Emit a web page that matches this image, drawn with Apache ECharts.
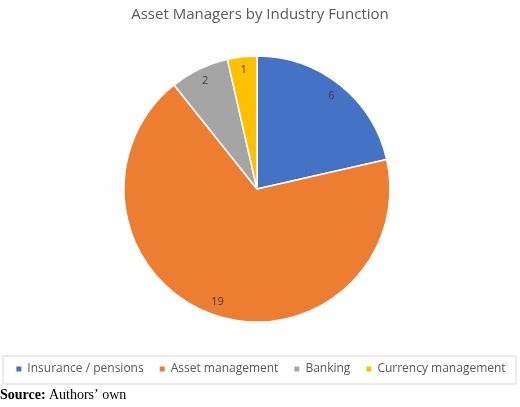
<!DOCTYPE html>
<html><head><meta charset="utf-8">
<script src="https://cdn.jsdelivr.net/npm/echarts@6/dist/echarts.min.js"></script>
<style>html,body{margin:0;padding:0;background:#fff}#c{width:520px;height:407px}</style>
</head><body><div id="c"></div>
<script>
const categories = ["Insurance / pensions","Asset management","Banking","Currency management"];
const values = [6,19,2,1];
const colors = ["#4472C4","#ED7D31","#A5A5A5","#FFC000"];
const data = categories.map((n,i)=>({name:n,value:values[i],itemStyle:{color:colors[i]}}));
const chart = echarts.init(document.getElementById('c'));
chart.setOption({
  animation:false,
  title:{text:"Asset Managers by Industry Function",left:'center',top:2,textStyle:{fontFamily:"Open Sans",fontSize:15,fontWeight:'normal',color:'#595959'}},
  legend:{bottom:27,left:'center',itemWidth:7,itemHeight:7,itemGap:14,icon:'rect',textStyle:{fontFamily:"Open Sans",fontSize:12,color:'#595959'},data:categories},
  graphic:[
    {type:'rect',shape:{x:3,y:356,width:513,height:28},style:{fill:'none',stroke:'#d9d9d9',lineWidth:1}},
    {type:'text',left:0,top:388,style:{rich:{b:{fontWeight:'bold',fontFamily:'Liberation Serif',fontSize:14,fill:'#000'},n:{fontFamily:'Liberation Serif',fontSize:14,fill:'#000'}},text:'{b|Source:} {n|Authors’ own}'}}
  ],
  series:[
    {type:'pie',center:[257,189],radius:[0,133],startAngle:90,clockwise:true,data:data,
     itemStyle:{borderColor:'#fff',borderWidth:1.5},label:{show:false},labelLine:{show:false}},
    {type:'pie',center:[257,189],radius:[100,133],startAngle:90,clockwise:true,silent:true,data:data.map(d=>({name:d.name,value:d.value})),
     itemStyle:{color:'rgba(0,0,0,0)'},legendHoverLink:false,
     label:{show:true,position:'inside',formatter:'{c}',fontFamily:'Open Sans',fontSize:11,color:'#404040'},labelLine:{show:false}}
  ]
});
</script></body></html>
